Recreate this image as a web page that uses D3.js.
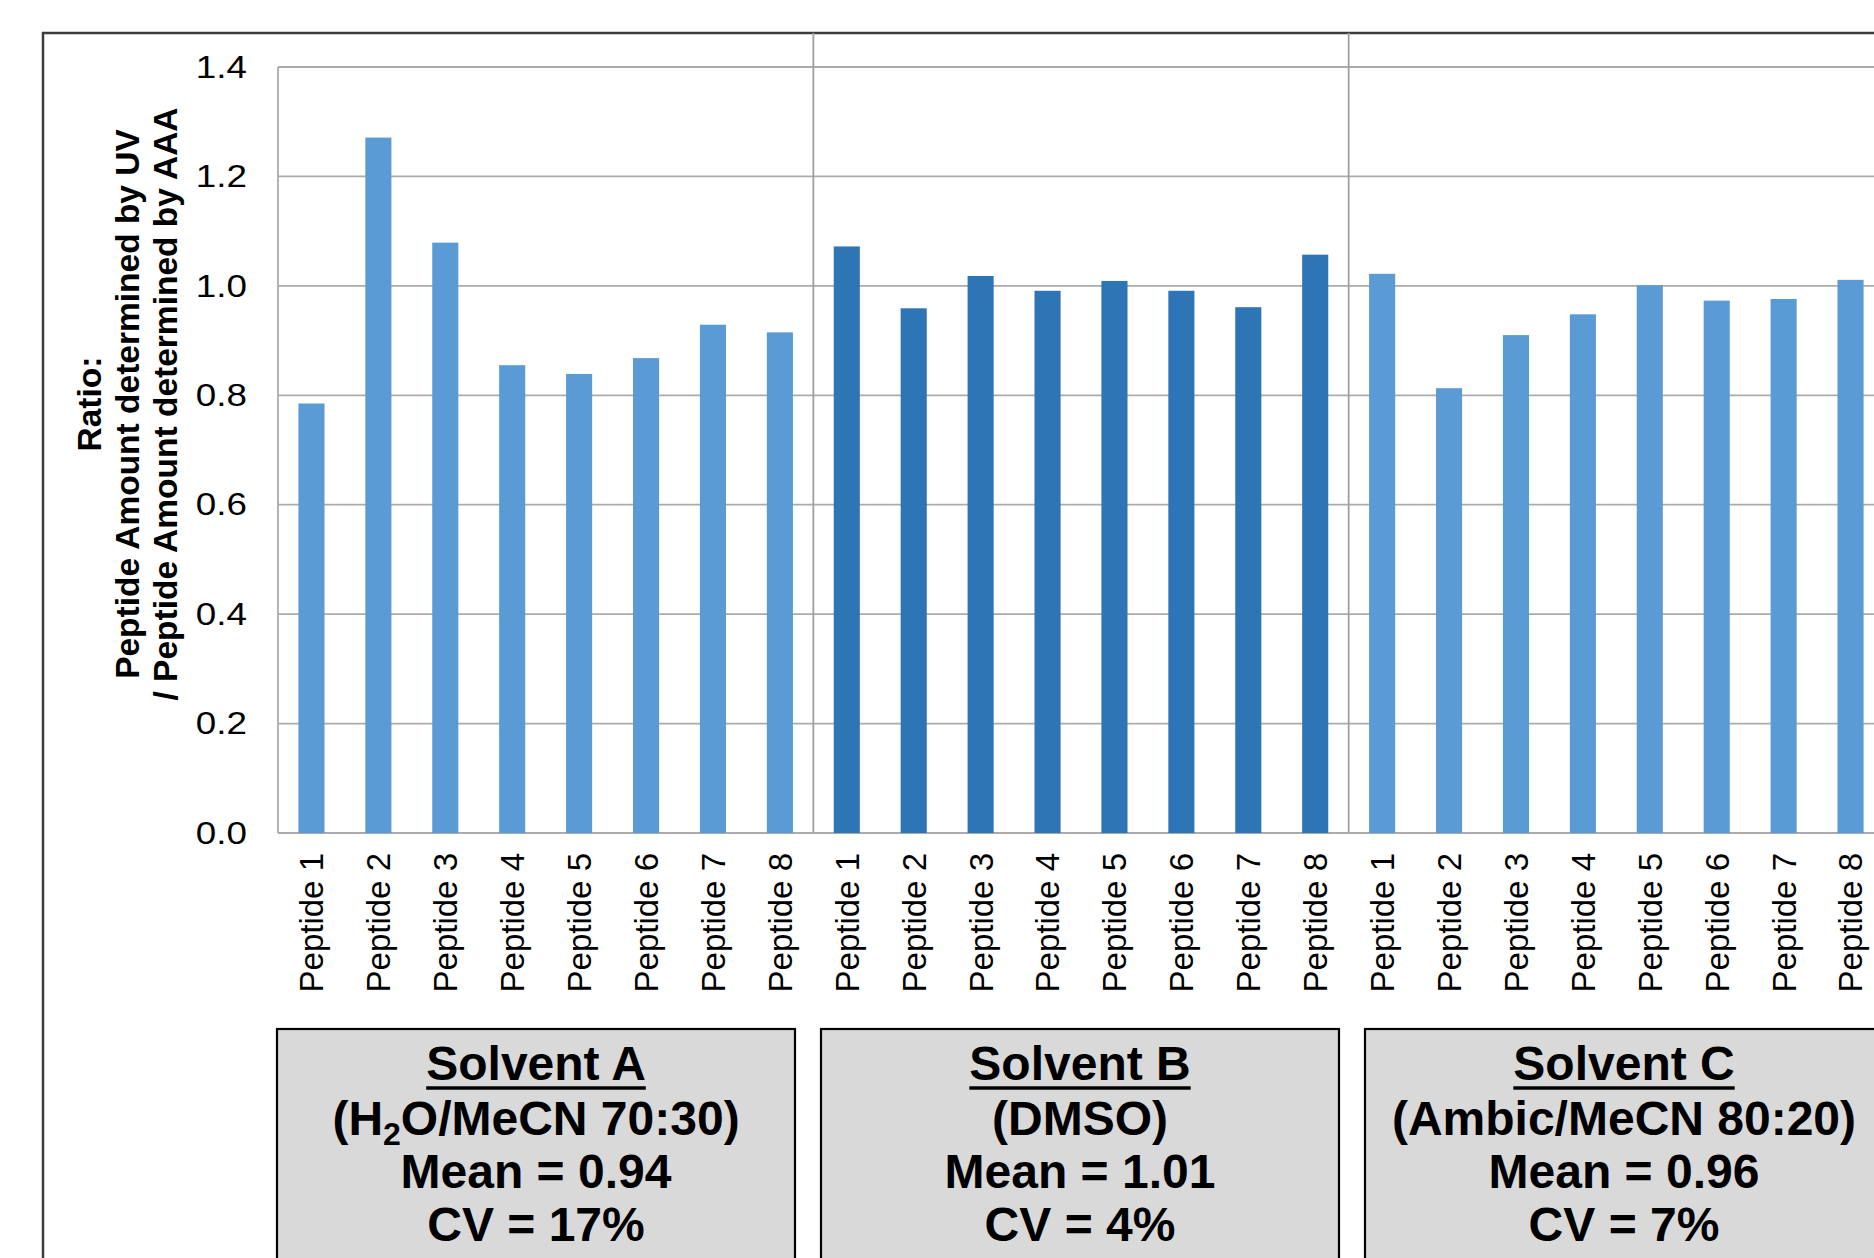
<!DOCTYPE html>
<html>
<head>
<meta charset="utf-8">
<script src="https://cdn.jsdelivr.net/npm/d3@7"></script>
<style>
  body { margin: 0; background: #fff; }
  svg { display: block; font-family: "Liberation Sans", Arial, sans-serif; }
</style>
</head>
<body>
<div id="chart"></div>
<script>
// datos
const solvents = ["A", "B", "C"];
const peptides = ["Peptide 1", "Peptide 2", "Peptide 3", "Peptide 4", "Peptide 5", "Peptide 6", "Peptide 7", "Peptide 8"];
const solventA = [0.785, 1.271, 1.079, 0.855, 0.839, 0.868, 0.929, 0.915];
const solventB = [1.072, 0.959, 1.018, 0.991, 1.009, 0.991, 0.961, 1.057];
const solventC = [1.022, 0.813, 0.910, 0.948, 1.001, 0.973, 0.976, 1.011];
const barColors = ["#5B9BD5", "#2E75B6", "#5B9BD5"];
const yTicks = [0, 0.2, 0.4, 0.6, 0.8, 1.0, 1.2, 1.4];
const yLabelLines = ["Ratio:", "Peptide Amount determined by UV", "/ Peptide Amount determined by AAA"];
const boxTitles = ["Solvent A", "Solvent B", "Solvent C"];
// [texto, subindice, texto]
const boxSolvents = [["(H", "2", "O/MeCN 70:30)"], ["(DMSO)"], ["(Ambic/MeCN 80:20)"]];
const boxMeans = ["Mean = 0.94", "Mean = 1.01", "Mean = 0.96"];
const boxCVs = ["CV = 17%", "CV = 4%", "CV = 7%"];

const W = 1874, H = 1258;
const plot = { left: 278, right: 1884, top: 67, bottom: 833 };

const svg = d3.select("#chart").append("svg")
  .attr("width", W).attr("height", H);

const values = [solventA, solventB, solventC];
const data = [];
solvents.forEach((s, gi) => {
  peptides.forEach((p, pi) => {
    data.push({ key: s + "-" + pi, solvent: gi, label: p, value: values[gi][pi] });
  });
});

const x = d3.scaleBand()
  .domain(data.map(d => d.key))
  .range([plot.left, plot.right])
  .paddingInner(0.61)
  .paddingOuter(0.305);

const y = d3.scaleLinear()
  .domain([0, 1.4])
  .range([plot.bottom, plot.top]);

// marco exterior
svg.append("rect")
  .attr("x", 43).attr("y", 33)
  .attr("width", 1900).attr("height", 1400)
  .attr("fill", "none")
  .attr("stroke", "#3c3c3c")
  .attr("stroke-width", 2.5);

// rejilla
svg.append("g").selectAll("line")
  .data(yTicks)
  .join("line")
  .attr("x1", plot.left).attr("x2", plot.right)
  .attr("y1", d => y(d)).attr("y2", d => y(d))
  .attr("stroke", "#ababab")
  .attr("stroke-width", 1.8);

svg.append("line")
  .attr("x1", plot.left).attr("x2", plot.left)
  .attr("y1", plot.top).attr("y2", plot.bottom)
  .attr("stroke", "#ababab")
  .attr("stroke-width", 1.8);

// separadores entre solventes
const step = x.step();
svg.append("g").selectAll("line")
  .data([1, 2])
  .join("line")
  .attr("x1", d => plot.left + d * peptides.length * step)
  .attr("x2", d => plot.left + d * peptides.length * step)
  .attr("y1", 33).attr("y2", plot.bottom)
  .attr("stroke", "#a0a0a0")
  .attr("stroke-width", 1.8);

// barras
svg.append("g").selectAll("rect")
  .data(data)
  .join("rect")
  .attr("x", d => x(d.key))
  .attr("y", d => y(d.value))
  .attr("width", x.bandwidth())
  .attr("height", d => y(0) - y(d.value))
  .attr("fill", d => barColors[d.solvent]);

// eje y (numeros algo mas anchos, como en el original)
const sx = 1.15;
const yAxis = svg.append("g")
  .attr("transform", `translate(${plot.left},0)`)
  .call(d3.axisLeft(y).tickValues(yTicks).tickFormat(d3.format(".1f")).tickSize(0).tickPadding(31));
yAxis.select(".domain").remove();
yAxis.selectAll("text")
  .attr("font-family", "Liberation Sans, Arial, sans-serif")
  .attr("font-size", 32)
  .attr("fill", "#000")
  .attr("x", -31 / sx)
  .attr("transform", `scale(${sx},1)`);

// eje x
const labelOf = new Map(data.map(d => [d.key, d.label]));
const xAxis = svg.append("g")
  .attr("transform", `translate(0,${plot.bottom})`)
  .call(d3.axisBottom(x).tickFormat(k => labelOf.get(k)).tickSize(0));
xAxis.select(".domain").remove();
xAxis.selectAll("text")
  .attr("font-family", "Liberation Sans, Arial, sans-serif")
  .attr("font-size", 33)
  .attr("fill", "#000")
  .attr("transform", "rotate(-90)")
  .attr("x", -20)
  .attr("y", 0)
  .attr("dy", "0.36em")
  .style("text-anchor", "end");

// titulo eje y
const yTitle = svg.append("text")
  .attr("transform", "translate(0,404) rotate(-90)")
  .attr("text-anchor", "middle")
  .attr("font-weight", "bold")
  .attr("font-size", 33.5)
  .attr("fill", "#000");
yLabelLines.forEach((t, i) => {
  yTitle.append("tspan")
    .attr("x", 0)
    .attr("y", 101 + i * 38)
    .text(t);
});

// cajas de resumen
const boxW = 518, boxGap = 26, boxLeft = 277, boxTop = 1029;
const lineY = [1080, 1135, 1188, 1241];
solvents.forEach((s, i) => {
  const bx = boxLeft + i * (boxW + boxGap);
  const cx = bx + boxW / 2;
  const g = svg.append("g");
  g.append("rect")
    .attr("x", bx).attr("y", boxTop)
    .attr("width", boxW).attr("height", 300)
    .attr("fill", "#d9d9d9")
    .attr("stroke", "#000")
    .attr("stroke-width", 2.2);

  const txt = (yy) => g.append("text")
    .attr("x", cx).attr("y", yy)
    .attr("text-anchor", "middle")
    .attr("font-weight", "bold")
    .attr("font-size", 48)
    .attr("fill", "#000");

  const title = txt(lineY[0]).text(boxTitles[i]);
  const tw = title.node().getComputedTextLength();
  g.append("line")
    .attr("x1", cx - tw / 2).attr("x2", cx + tw / 2)
    .attr("y1", lineY[0] + 8).attr("y2", lineY[0] + 8)
    .attr("stroke", "#000")
    .attr("stroke-width", 3.5);

  const sol = txt(lineY[1]);
  boxSolvents[i].forEach((part, j) => {
    const ts = sol.append("tspan").text(part);
    if (j === 1) ts.attr("font-size", 32).attr("dy", 10);
    if (j === 2) ts.attr("dy", -10);
  });

  txt(lineY[2]).text(boxMeans[i]);
  txt(lineY[3]).text(boxCVs[i]);
});
</script>
</body>
</html>
